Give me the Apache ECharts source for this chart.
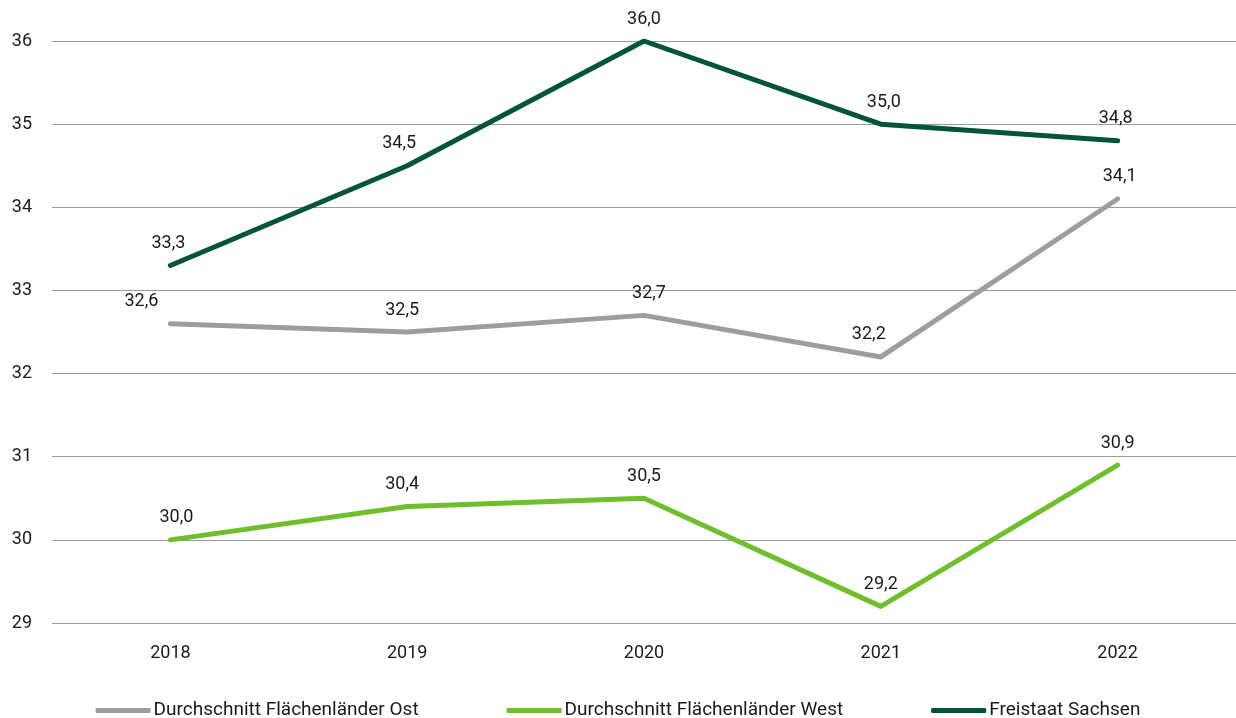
<!DOCTYPE html>
<html>
<head>
<meta charset="utf-8">
<script src="https://cdn.jsdelivr.net/npm/echarts@6/dist/echarts.min.js"></script>
<style>
  html, body { margin: 0; padding: 0; background: #fff; }
  #chart { width: 1236px; height: 718px; }
</style>
</head>
<body>
<div id="chart"></div>
<script>
// Years on the category axis
const years = ['2018', '2019', '2020', '2021', '2022'];

// Series values
const ostValues = [32.6, 32.5, 32.7, 32.2, 34.1];
const westValues = [30.0, 30.4, 30.5, 29.2, 30.9];
const sachsenValues = [33.3, 34.5, 36.0, 35.0, 34.8];

// Series names
const seriesNames = [
  'Durchschnitt Flächenländer Ost',
  'Durchschnitt Flächenländer West',
  'Freistaat Sachsen'
];

const colors = ['#9d9d9c', '#6fbe2b', '#00543a'];

// horizontal nudges for value labels, so they clear the lines
const ostLabelShift = [-29, -5, 5, -12, 2];
const westLabelShift = [6, -5, 0, 0, 0];
const sachsenLabelShift = [-2, -8, 0, 3, -2];

const fmt = v => v.toFixed(1).replace('.', ',');

function lineSeries(name, values, shifts, color) {
  return {
    name: name,
    type: 'line',
    data: values,
    // tiny symbols hidden under the stroke; they carry the value labels
    symbol: 'circle',
    symbolSize: 2,
    showSymbol: true,
    lineStyle: { width: 5, color: color, cap: 'round', join: 'round' },
    itemStyle: { color: color },
    label: {
      show: true,
      position: 'top',
      distance: 12,
      color: '#1a1a1a',
      fontFamily: 'Roboto',
      fontSize: 18,
      formatter: p => fmt(p.value)
    },
    labelLayout: p => ({ dx: shifts[p.dataIndex], hideOverlap: false }),
    emphasis: { disabled: true },
    animation: false
  };
}

const chart = echarts.init(document.getElementById('chart'));
chart.setOption({
  backgroundColor: '#ffffff',
  grid: { left: 52, right: 0, top: 41, bottom: 95, containLabel: false },
  legend: {
    top: 696,
    left: 'center',
    itemWidth: 55,
    itemHeight: 5,
    itemGap: 88,
    icon: 'roundRect',
    textStyle: { fontFamily: 'Roboto', fontSize: 19, color: '#1a1a1a', padding: [0, 0, 0, -2] },
    data: seriesNames
  },
  xAxis: {
    type: 'category',
    data: years,
    boundaryGap: true,
    axisLine: { show: false },
    axisTick: { show: false },
    axisLabel: { margin: 21, color: '#1a1a1a', fontFamily: 'Roboto', fontSize: 18 }
  },
  yAxis: {
    type: 'value',
    min: 29,
    max: 36,
    interval: 1,
    axisLine: { show: false },
    axisTick: { show: false },
    axisLabel: { margin: 20, color: '#1a1a1a', fontFamily: 'Roboto', fontSize: 18 },
    splitLine: { lineStyle: { color: '#9a9a9a', width: 1 } }
  },
  series: [
    lineSeries(seriesNames[0], ostValues, ostLabelShift, colors[0]),
    lineSeries(seriesNames[1], westValues, westLabelShift, colors[1]),
    lineSeries(seriesNames[2], sachsenValues, sachsenLabelShift, colors[2])
  ]
});
</script>
</body>
</html>
